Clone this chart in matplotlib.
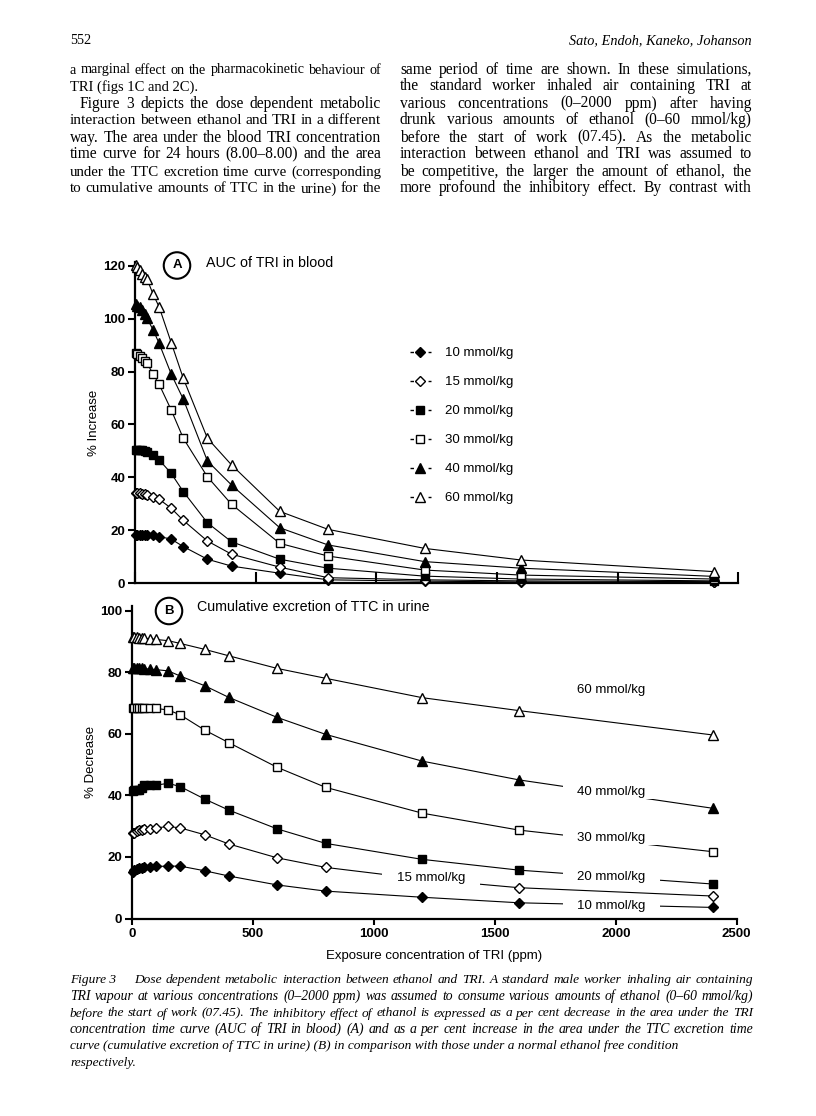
import matplotlib
matplotlib.use('Agg')
import matplotlib.pyplot as plt
from matplotlib.lines import Line2D
from matplotlib.path import Path

# ---------------- data ----------------
exposure_ppm = [5, 10, 20, 30, 40, 50, 75, 100, 150, 200, 300, 400, 600, 800, 1200, 1600, 2400]
doses = ['10 mmol/kg', '15 mmol/kg', '20 mmol/kg', '30 mmol/kg', '40 mmol/kg', '60 mmol/kg']

# Panel A: % increase of AUC of TRI in blood
auc_10 = [18.0, 18.2, 18.3, 18.3, 18.3, 18.2, 18.1, 17.6, 16.6, 13.8, 9.0, 6.4, 3.7, 1.2, 0.7, 0.4, 0.2]
auc_15 = [34.0, 34.0, 34.0, 33.8, 33.5, 33.2, 32.7, 31.7, 28.3, 23.7, 15.9, 10.9, 6.0, 2.0, 1.2, 0.8, 0.5]
auc_20 = [50.5, 50.5, 50.3, 50.2, 50.0, 49.5, 48.4, 46.6, 41.5, 34.6, 22.8, 15.6, 9.0, 5.6, 2.6, 1.5, 0.8]
auc_30 = [87.0, 86.5, 85.8, 85.0, 84.2, 83.2, 79.1, 75.2, 65.5, 54.8, 40.2, 29.8, 15.0, 10.2, 4.9, 3.0, 1.5]
auc_40 = [105.5, 105.0, 104.5, 103.5, 102.0, 100.2, 95.8, 90.7, 79.1, 69.6, 46.2, 37.1, 20.9, 14.4, 8.1, 5.6, 2.5]
auc_60 = [120.5, 119.5, 118.5, 117.0, 116.0, 115.0, 109.3, 104.5, 91.0, 77.5, 54.8, 44.7, 27.1, 20.3, 13.1, 8.7, 4.3]

# Panel B: % decrease of cumulative excretion of TTC in urine
ttc_10 = [15.2, 15.6, 16.0, 16.3, 16.5, 16.7, 16.8, 16.9, 17.0, 17.0, 15.5, 13.8, 10.9, 8.9, 6.9, 5.1, 3.6]
ttc_15 = [27.6, 27.9, 28.3, 28.6, 28.8, 29.0, 29.2, 29.4, 29.9, 29.4, 27.2, 24.2, 19.7, 16.6, 12.8, 10.0, 7.3]
ttc_20 = [41.5, 41.6, 41.7, 41.8, 42.5, 43.3, 43.3, 43.3, 43.9, 42.8, 38.8, 35.2, 29.1, 24.4, 19.2, 15.7, 11.2]
ttc_30 = [68.2, 68.2, 68.2, 68.2, 68.2, 68.2, 68.2, 68.2, 67.7, 66.1, 61.2, 57.1, 49.1, 42.6, 34.2, 28.7, 21.7]
ttc_40 = [81.3, 81.3, 81.3, 81.3, 81.2, 81.1, 81.0, 80.8, 80.4, 78.7, 75.6, 71.8, 65.3, 59.8, 51.1, 45.0, 35.8]
ttc_60 = [91.5, 91.4, 91.3, 91.2, 91.1, 91.0, 90.8, 90.6, 90.2, 89.3, 87.4, 85.3, 81.2, 78.0, 71.7, 67.5, 59.6]

x_ticks = [0, 500, 1000, 1500, 2000, 2500]
ya_ticks = [0, 20, 40, 60, 80, 100, 120]
yb_ticks = [0, 20, 40, 60, 80, 100]

# ---------------- page text ----------------
left_col = [
    "a marginal effect on the pharmacokinetic behaviour of",
    "TRI (figs 1C and 2C).",
    "Figure 3 depicts the dose dependent metabolic",
    "interaction between ethanol and TRI in a different",
    "way. The area under the blood TRI concentration",
    "time curve for 24 hours (8.00\u20138.00) and the area",
    "under the TTC excretion time curve (corresponding",
    "to cumulative amounts of TTC in the urine) for the",
]
right_col = [
    "same period of time are shown. In these simulations,",
    "the standard worker inhaled air containing TRI at",
    "various concentrations (0\u20132000 ppm) after having",
    "drunk various amounts of ethanol (0\u201360 mmol/kg)",
    "before the start of work (07.45). As the metabolic",
    "interaction between ethanol and TRI was assumed to",
    "be competitive, the larger the amount of ethanol, the",
    "more profound the inhibitory effect. By contrast with",
]
caption = [
    "Figure\u00a03\u2003 Dose dependent metabolic interaction between ethanol and TRI. A standard male worker inhaling air containing",
    "TRI vapour at various concentrations (0\u20132000 ppm) was assumed to consume various amounts of ethanol (0\u201360 mmol/kg)",
    "before the start of work (07.45). The inhibitory effect of ethanol is expressed as a per cent decrease in the area under the TRI",
    "concentration time curve (AUC of TRI in blood) (A) and as a per cent increase in the area under the TTC excretion time",
    "curve (cumulative excretion of TTC in urine) (B) in comparison with those under a normal ethanol free condition",
    "respectively.",
]

W, H = 816, 1116
fig = plt.figure(figsize=(W / 100, H / 100), dpi=100)
renderer = fig.canvas.get_renderer()


def fx(px):
    return px / W


def fy(py):
    return 1 - py / H


def natural_width(text, **kw):
    words = text.split(' ')
    t = fig.text(0, 0, 'n n', **kw)
    tn = fig.text(0, 0, 'nn', **kw)
    space = t.get_window_extent(renderer).width - tn.get_window_extent(renderer).width
    t.remove(); tn.remove()
    total = 0
    for w in words:
        tw = fig.text(0, 0, w, **kw)
        total += tw.get_window_extent(renderer).width
        tw.remove()
    return total + space * (len(words) - 1)


def put_line(text, x0, x1, y, justify=True, size=10, lo=9.5, hi=10.8, **kw):
    words = text.split(' ')
    if justify:
        ratio = (x1 - x0) / natural_width(text, fontsize=size, **kw)
        size = max(lo, min(hi, size * ratio * 0.985))
    else:
        size = hi if size > hi else size
    if not justify or len(words) == 1:
        fig.text(fx(x0), fy(y), text, va='baseline', ha='left', fontsize=size, **kw)
        return
    ts = [fig.text(0, 0, w, va='baseline', ha='left', fontsize=size, **kw) for w in words]
    ws = [t.get_window_extent(renderer).width for t in ts]
    gap = (x1 - x0 - sum(ws)) / (len(ws) - 1)
    x = x0
    for t, w in zip(ts, ws):
        t.set_position((fx(x), fy(y)))
        x += w + gap


serif = dict(family='Liberation Serif', color='black')

fig.text(fx(70), fy(44), "552", va='baseline', ha='left', fontsize=10.3, **serif)
fig.text(fx(752), fy(44), "Sato, Endoh, Kaneko, Johanson", va='baseline', ha='right',
         style='italic', fontsize=10.3, **serif)

base0, lead = 73.5, 17.0
for i, line in enumerate(left_col):
    x0 = 80 if i == 2 else 70
    put_line(line, x0, 381, base0 + i * lead, justify=(i != 1), size=10.5,
             lo=9.6, hi=11.2, **serif)
for i, line in enumerate(right_col):
    put_line(line, 400, 752, base0 + i * lead, size=10.5, lo=9.6, hi=11.2, **serif)

cap_base = [983, 1000, 1016.5, 1033, 1049.5, 1066]
for i, line in enumerate(caption):
    put_line(line, 70, 753, cap_base[i], justify=(i < 4), size=9.6, lo=9.0, hi=9.9,
             style='italic', **serif)

# ---------------- chart ----------------
sans = 'Liberation Sans'
plt.rcParams['font.family'] = [sans, 'DejaVu Sans']

styles = [
    dict(marker='D', mfc='black', ms=5.6),
    dict(marker='D', mfc='white', ms=5.6),
    dict(marker='s', mfc='black', ms=6.3),
    dict(marker='s', mfc='white', ms=6.3),
    dict(marker='^', mfc='black', ms=7.0),
    dict(marker='^', mfc='white', ms=7.0),
]

axA = fig.add_axes([135 / W, 1 - 583 / H, 603.3 / W, 321 / H])
axB = fig.add_axes([132 / W, 1 - 918.5 / H, 604.7 / W, 312.6 / H])

for ax in (axA, axB):
    for s in ('top', 'right'):
        ax.spines[s].set_visible(False)
    for s in ('left', 'bottom'):
        ax.spines[s].set_linewidth(1.6)
    ax.set_xlim(0, 2500)
    ax.set_xticks(x_ticks)
    ax.tick_params(axis='y', direction='out', length=5, width=1.5, labelsize=9.5, pad=2)

axA.set_ylim(0, 121.5)
axA.set_yticks(ya_ticks)
axA.set_yticklabels([str(v) for v in ya_ticks], fontweight='bold')
axA.tick_params(axis='x', direction='in', length=8, width=1.5, labelbottom=False)

axB.set_ylim(0, 101.5)
axB.set_yticks(yb_ticks)
axB.set_yticklabels([str(v) for v in yb_ticks], fontweight='bold')
axB.set_xticklabels([str(v) for v in x_ticks], fontweight='bold')
axB.tick_params(axis='x', direction='out', length=4, width=1.5, labelsize=9.5, pad=3)

auc_series = [auc_10, auc_15, auc_20, auc_30, auc_40, auc_60]
ttc_series = [ttc_10, ttc_15, ttc_20, ttc_30, ttc_40, ttc_60]

handles = []
for st, ya, yb, lab in zip(styles, auc_series, ttc_series, doses):
    kw = dict(color='black', lw=0.8, mec='black', mew=1.0, clip_on=False, zorder=3)
    axA.plot(exposure_ppm, ya, **kw, **st)
    axB.plot(exposure_ppm, yb, **kw, **st)
    handles.append(Line2D([], [], color='black', lw=1.0, ls=(0, (2.5, 10.5)),
                          mec='black', mew=1.0, label=lab, **st))

leg = axA.legend(handles=handles, loc='upper left', bbox_to_anchor=(0.455, 0.735),
                 frameon=False, fontsize=9.5, handlelength=1.6, handletextpad=1.1,
                 labelspacing=1.27, borderpad=0, borderaxespad=0)

axA.set_ylabel('% Increase', fontsize=9.5, labelpad=2)
axB.set_ylabel('% Decrease', fontsize=9.5, labelpad=2)
axB.set_xlabel('Exposure concentration of TRI (ppm)', fontsize=9.5, labelpad=7)

# panel titles with circled letters
fig.text(fx(177), fy(265.5), 'A', ha='center', va='center', fontsize=9.5, fontweight='bold',
         bbox=dict(boxstyle='circle,pad=0.55', fc='white', ec='black', lw=1.5))
fig.text(fx(206), fy(263), 'AUC of TRI in blood', ha='left', va='center', fontsize=10.3)
fig.text(fx(169), fy(611), 'B', ha='center', va='center', fontsize=9.5, fontweight='bold',
         bbox=dict(boxstyle='circle,pad=0.55', fc='white', ec='black', lw=1.5))
fig.text(fx(197), fy(607), 'Cumulative excretion of TTC in urine', ha='left', va='center',
         fontsize=10.3)


def gap_box(x0, y0, width, height, mutation_size):
    px_ = 1.1 * mutation_size
    py_ = 0.05 * mutation_size
    xa, xb = x0 - px_, x0 + width + px_
    ya, yb = y0 - py_, y0 + height + py_
    return Path([(xa, ya), (xb, ya), (xb, yb), (xa, yb), (xa, ya)], closed=True)


b_labels = ['60 mmol/kg', '40 mmol/kg', '30 mmol/kg', '20 mmol/kg', '10 mmol/kg', '15 mmol/kg']
b_label_x = [1840, 1840, 1840, 1840, 1840, 1095]
b_label_y = [74.2, 41.1, 26.1, 13.5, 4.1, 13.1]
for t, lx, ly in zip(b_labels, b_label_x, b_label_y):
    axB.text(lx, ly, t, ha='left', va='center', fontsize=9.5, zorder=6,
             bbox=dict(boxstyle=gap_box, fc='white', ec='none'))

fig.savefig('out.png', dpi=100)
